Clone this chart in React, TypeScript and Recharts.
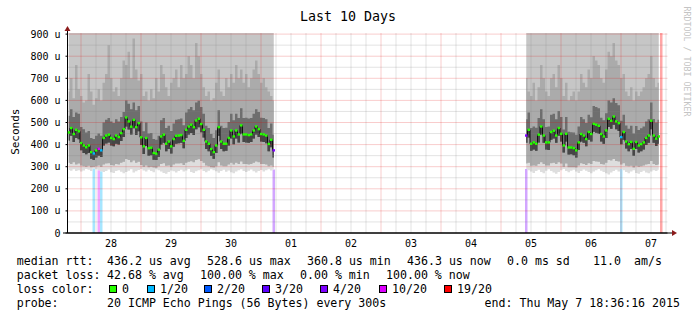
import React from 'react';
import { ComposedChart, Area, Line, XAxis, YAxis, ReferenceLine, ReferenceArea } from 'recharts';

// ---- time axis (hours since 27 Apr 00:00) ----
const START_HOUR = 18.6; // 27 Apr 18:36
const END_HOUR = 258.6; // 07 May 18:36
const YMAX = 905;
const dayTicks = [36, 60, 84, 108, 132, 156, 180, 204, 228, 252];
const dayLabels = ['28', '29', '30', '01', '02', '03', '04', '05', '06', '07'];
const yTicks = [0, 100, 200, 300, 400, 500, 600, 700, 800, 900];

// ---- segment 1 (bins 0..82, 1h each) ----
const med1 = [455,475,448,467,460,407,396,388,396,366,360,374,381,374,430,441,445,430,425,441,434,452,470,523,505,481,512,479,497,433,392,430,384,386,362,359,377,437,445,404,414,392,425,440,441,443,417,467,482,490,479,509,517,493,467,414,404,380,366,396,479,414,404,404,430,464,437,464,446,487,446,446,443,446,464,482,470,448,446,441,403,422,374];
const lo1 = [285,282,288,280,284,278,283,290,286,280,292,288,284,279,276,281,287,275,272,280,284,277,270,276,282,288,274,279,285,290,283,278,286,281,275,289,284,278,272,268,276,283,279,274,281,286,278,283,290,276,271,279,284,288,280,275,282,289,284,279,273,280,286,277,283,275,270,278,284,289,281,276,282,287,279,274,281,285,278,284,289,283,287];
const l2_1 = [318,312,320,310,315,305,302,300,304,298,300,302,305,300,310,314,316,308,306,312,310,318,322,335,330,320,328,318,322,308,300,306,298,300,296,295,302,312,316,304,306,300,310,314,315,316,308,318,322,325,320,330,334,326,318,305,302,298,296,302,320,306,302,302,310,318,310,318,312,324,312,312,310,312,318,324,320,312,312,310,302,306,300];
const q1_1 = [418,440,412,430,424,374,362,356,362,336,330,342,350,344,396,405,410,396,392,404,400,416,434,482,468,446,474,444,460,398,358,394,350,352,332,330,345,400,408,370,380,360,390,404,406,408,384,430,446,452,444,470,478,456,432,380,370,348,336,362,440,380,370,372,396,428,402,428,410,450,412,410,408,412,428,446,434,414,412,406,370,388,342];
const q3_1 = [530,560,525,545,540,480,470,455,462,430,425,440,450,440,500,512,520,505,498,515,505,525,548,600,585,560,590,555,575,505,460,500,450,452,425,422,440,510,520,475,485,462,495,512,515,518,488,545,560,570,555,590,598,570,540,485,475,448,430,465,555,485,475,476,502,540,510,540,520,565,520,522,518,520,540,560,548,522,520,515,475,495,445];
const hi1 = [640,700,610,760,650,620,590,600,720,640,580,610,650,600,680,720,850,700,640,660,620,700,780,760,820,700,880,740,690,720,620,640,600,650,610,700,640,760,720,660,620,680,700,740,660,760,700,720,800,760,700,860,800,720,660,620,640,600,610,680,740,640,620,700,660,720,680,760,700,740,680,720,660,700,740,780,720,680,700,660,640,620,600];

// ---- segment 2 (bins 183..236) ----
const SEG2_START = 183;
const med2 = [441,467,404,410,404,445,482,441,410,410,457,463,441,475,449,396,449,387,387,384,374,410,448,441,425,457,448,494,490,485,448,437,464,517,508,527,505,497,434,457,414,402,412,381,412,396,402,410,430,441,508,441,427,437];
const lo2 = [290,284,278,272,280,286,276,270,282,288,280,274,268,276,284,290,280,275,282,286,278,272,280,287,282,276,270,278,284,290,282,276,270,265,274,280,286,278,290,284,276,270,278,284,272,268,276,282,274,270,278,284,280,286];
const l2_2 = [315,318,304,306,304,312,320,312,306,306,316,318,312,320,314,300,314,298,298,298,296,306,316,312,308,316,312,326,324,322,312,310,318,330,328,335,326,324,310,316,304,302,304,296,304,300,302,306,310,312,326,312,308,310];
const q1_2 = [408,432,372,378,372,410,446,408,378,376,422,428,408,440,414,364,414,355,356,352,342,376,414,408,392,422,414,458,454,450,414,404,430,480,472,490,470,462,402,422,382,370,380,350,380,364,370,378,398,408,470,408,394,404];
const q3_2 = [515,545,475,482,476,520,560,515,480,482,535,540,515,552,525,468,525,458,456,455,445,482,525,515,498,535,524,575,570,565,522,510,542,600,590,610,588,578,508,535,486,472,485,450,484,466,474,482,505,515,590,516,500,512];
const hi2 = [700,640,620,680,600,660,760,700,640,620,700,720,660,760,700,620,680,600,620,640,600,640,720,680,660,740,700,800,780,760,700,680,740,820,800,860,780,760,700,720,640,620,660,600,640,620,640,660,700,720,800,700,660,680];

// ---- packet loss events ----
const lossBins = [10, 12, 13, 82, 183, 221, 237];
const lossLevels = ['1/20', '10/20', '1/20', '4/20', '4/20', '1/20', '19/20'];
const lossLegend = ['0', '1/20', '2/20', '3/20', '4/20', '10/20', '19/20'];
const lossColors: Record<string, string> = {
  '0': '#26ff00', '1/20': '#00b8ff', '2/20': '#0059ff', '3/20': '#5e00ff',
  '4/20': '#7e00ff', '10/20': '#dd00ff', '19/20': '#ff0000',
};

type Row = {
  x: number; med: number | null; lo: number | null;
  fringe: number[] | null; upper: number[] | null; mid: number[] | null;
  core: number[] | null; low: number[] | null; loss: string | null;
};

const rows: Row[] = [];
for (let k = 0; k < 240; k++) {
  const x = START_HOUR + k + 0.5;
  let med: number | null = null, lo = 0, l2 = 0, q1 = 0, q3 = 0, hi = 0;
  if (k < med1.length) {
    med = med1[k]; lo = lo1[k]; l2 = l2_1[k]; q1 = q1_1[k]; q3 = q3_1[k]; hi = hi1[k];
  } else if (k >= SEG2_START && k - SEG2_START < med2.length) {
    const j = k - SEG2_START;
    med = med2[j]; lo = lo2[j]; l2 = l2_2[j]; q1 = q1_2[j]; q3 = q3_2[j]; hi = hi2[j];
  }
  const li = lossBins.indexOf(k);
  const has = med != null;
  rows.push({
    x,
    med,
    lo: has ? lo : null,
    fringe: has ? [lo, l2] : null,
    upper: has ? [l2, YMAX] : null,
    mid: has ? [l2, hi] : null,
    core: has ? [q1, q3] : null,
    low: has ? [q1, med as number] : null,
    loss: li >= 0 ? lossLevels[li] : has ? '0' : null,
  });
}

// grid positions (6h minor, midnight major; 50u minor, 100u major)
const vMajor: number[] = [];
const vMinor: number[] = [];
for (let h = 24; h < END_HOUR; h += 6) (h % 24 === 0 ? vMajor : vMinor).push(h);
const hMajor = [100, 200, 300, 400, 500, 600, 700, 800, 900];
const hMinor = [50, 150, 250, 350, 450, 550, 650, 750, 850];

const MONO = '"DejaVu Sans Mono", monospace';

const renderDot = (props: any) => {
  const { cx, cy, payload, index } = props;
  if (cx == null || cy == null || payload == null || payload.med == null) return <g key={`d${index}`} />;
  return <rect key={`d${index}`} x={cx - 1.25} y={cy - 1.2} width={2.5} height={2.4} fill={lossColors[payload.loss || '0']} />;
};

const bandProps = { type: 'step' as const, stroke: 'none', fillOpacity: 1, isAnimationActive: false, activeDot: false };

export default function App() {
  return (
    <div style={{ position: 'absolute', left: 0, top: 0, width: 697, height: 321, background: '#fff' }}>
      <ComposedChart width={697} height={321} data={rows} margin={{ top: 33, right: 29.5, bottom: 68, left: 7.5 }}>
        <XAxis
          type="number"
          dataKey="x"
          domain={[START_HOUR, END_HOUR]}
          ticks={dayTicks}
          tickFormatter={(v: number) => dayLabels[dayTicks.indexOf(v)] ?? ''}
          height={20}
          tickLine={false}
          tickSize={2}
          tickMargin={5}
          axisLine={{ stroke: '#000' }}
          tick={{ fontFamily: MONO, fontSize: 10, fill: '#000' }}
          allowDataOverflow
        />
        <YAxis
          type="number"
          domain={[0, YMAX]}
          ticks={yTicks}
          width={60}
          tickFormatter={(v: number) => (v === 0 ? '0' : `${v} u`)}
          tickSize={2}
          tickMargin={5}
          tickLine={{ stroke: '#000' }}
          axisLine={{ stroke: '#000' }}
          tick={{ fontFamily: MONO, fontSize: 10, fill: '#000' }}
          allowDataOverflow
        />
        {lossBins.map((b, i) => (
          <ReferenceArea
            key={`loss${i}`}
            x1={START_HOUR + b}
            x2={START_HOUR + b + 1}
            y1={0}
            y2={rows[b].lo ?? YMAX}
            fill={lossColors[lossLevels[i]]}
            fillOpacity={0.35}
            stroke="none"
            ifOverflow="hidden"
            zIndex={50}
          />
        ))}
        <Area {...bandProps} dataKey="fringe" fill="#dedede" zIndex={100} />
        <Area {...bandProps} dataKey="upper" fill="#c6c6c6" zIndex={101} />
        <Area {...bandProps} dataKey="mid" fill="#ababab" zIndex={102} />
        <Area {...bandProps} dataKey="core" fill="#6e6e6e" zIndex={103} />
        <Area {...bandProps} dataKey="low" fill="#464646" zIndex={104} />
        {hMinor.map((y) => (
          <ReferenceLine key={`hm${y}`} y={y} stroke="#808080" strokeOpacity={0.22} strokeWidth={1} zIndex={150} />
        ))}
        {vMinor.map((x) => (
          <ReferenceLine key={`vm${x}`} x={x} stroke="#808080" strokeOpacity={0.22} strokeWidth={1} zIndex={150} />
        ))}
        {hMajor.map((y) => (
          <ReferenceLine key={`hM${y}`} y={y} stroke="#e00000" strokeOpacity={0.2} strokeWidth={1} zIndex={151} />
        ))}
        {vMajor.map((x) => (
          <ReferenceLine key={`vM${x}`} x={x} stroke="#e00000" strokeOpacity={0.2} strokeWidth={1} zIndex={151} />
        ))}
        <Line
          type="step"
          dataKey="med"
          stroke="#111"
          strokeWidth={1}
          dot={renderDot}
          activeDot={false}
          isAnimationActive={false}
          zIndex={400}
        />
      </ComposedChart>
      <svg width={697} height={321} style={{ position: 'absolute', left: 0, top: 0, pointerEvents: 'none' }}>
        <line x1={67.5} y1={33} x2={67.5} y2={30} stroke="#000" strokeWidth={1} />
        <polygon points="64.5,31 70.5,31 67.5,26" fill="#8b1a1a" />
        <line x1={63} y1={233} x2={673} y2={233} stroke="#000" strokeWidth={1} />
        <polygon points="672,230 672,236 677,233" fill="#8b1a1a" />
        <text x={348} y={20.5} textAnchor="middle" fontFamily={MONO} fontSize={13.3} fill="#000">Last 10 Days</text>
        <text transform="translate(18.5,131.7) rotate(-90)" textAnchor="middle" fontFamily={MONO} fontSize={11} fill="#000">Seconds</text>
        <text transform="translate(684,6.5) rotate(90)" textAnchor="start" fontFamily={MONO} fontSize={8.3} fill="#c4c4c4">RRDTOOL / TOBI OETIKER</text>
        <g fontFamily={MONO} fontSize={11.6} fill="#000" style={{ whiteSpace: 'pre' }}>
          <text x={16.7} y={264.5}>median rtt:</text>
          <text x={107} y={264.5}>436.2 us avg</text>
          <text x={207} y={264.5}>528.6 us max</text>
          <text x={307} y={264.5}>360.8 us min</text>
          <text x={407} y={264.5}>436.3 us now</text>
          <text x={507} y={264.5}>0.0 ms sd</text>
          <text x={593} y={264.5}>11.0</text>
          <text x={634} y={264.5}>am/s</text>

          <text x={16.7} y={278.7}>packet loss:</text>
          <text x={107} y={278.7}>42.68 % avg</text>
          <text x={200} y={278.7}>100.00 % max</text>
          <text x={300} y={278.7}>0.00 % min</text>
          <text x={386} y={278.7}>100.00 % now</text>

          <text x={16.7} y={292.9}>loss color:</text>
          {lossLegend.map((l, i) => {
            const bx = [109, 147, 204, 262, 320, 379, 444][i];
            return (
              <g key={`lg${l}`}>
                <rect x={bx + 0.5} y={285.5} width={7} height={7} fill={lossColors[l]} stroke="#000" strokeWidth={1} />
                <text x={bx + 13} y={292.9}>{l}</text>
              </g>
            );
          })}

          <text x={16.7} y={307}>probe:</text>
          <text x={107} y={307}>20 ICMP Echo Pings (56 Bytes) every 300s</text>
          <text x={680} y={307} textAnchor="end">end: Thu May  7 18:36:16 2015</text>
        </g>
      </svg>
    </div>
  );
}
